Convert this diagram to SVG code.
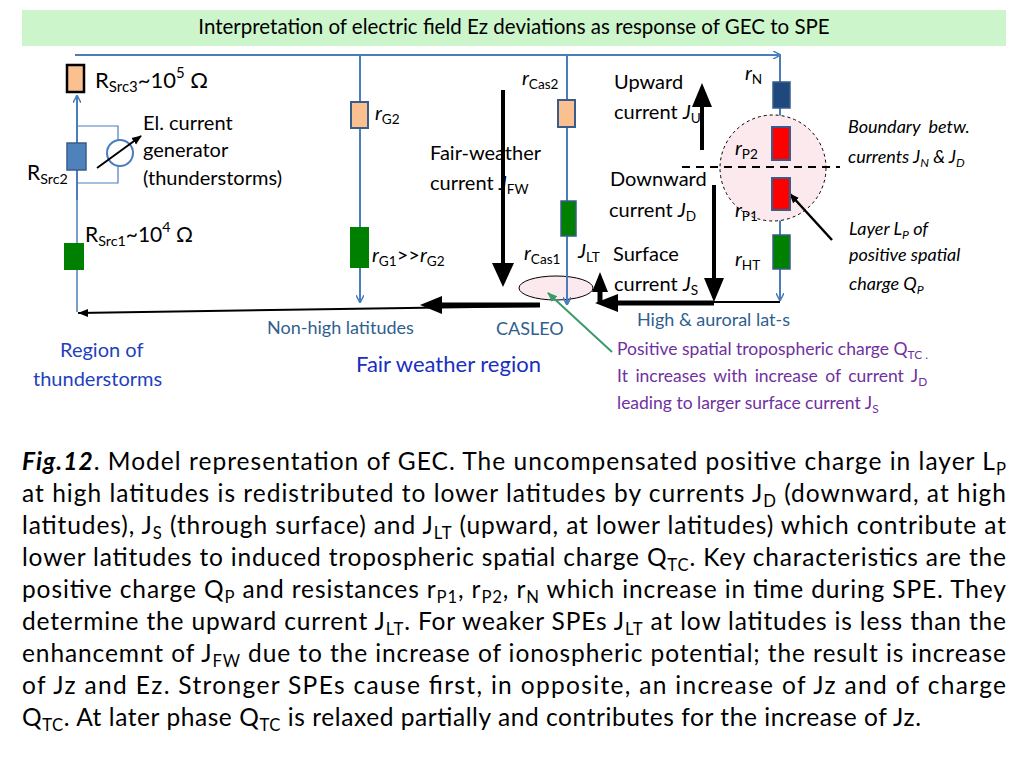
<svg xmlns="http://www.w3.org/2000/svg" width="1024" height="768" viewBox="0 0 1024 768">
<style>
text{font-family:Lato,"Liberation Sans",sans-serif;fill:#000}
.l{font-size:20px}.s{font-size:18px}
.sb{font-size:68%;baseline-shift:-0.3em}.sp{font-size:68%;baseline-shift:0.7em}
.i{font-style:italic}
.w{stroke:#4a7ebb;stroke-width:2;fill:none}
.cap{font-size:24.5px}
.blu{fill:#2f5f8f}.pur{fill:#7030a0;font-size:17.5px}
</style>
<defs>
<marker id="ba" markerWidth="8" markerHeight="8" refX="7" refY="4" orient="auto" markerUnits="userSpaceOnUse"><path d="M0,0 L8,4 L0,8" fill="none" stroke="#4a7ebb" stroke-width="1.5"/></marker>
<marker id="bk" markerWidth="10" markerHeight="10" refX="9" refY="5" orient="auto" markerUnits="userSpaceOnUse"><path d="M0,1 L10,5 L0,9Z" fill="#000"/></marker>
<marker id="gk" markerWidth="10" markerHeight="10" refX="9" refY="5" orient="auto" markerUnits="userSpaceOnUse"><path d="M0,1 L10,5 L0,9Z" fill="#3a9a6a"/></marker>
</defs>
<rect x="22" y="10" width="984" height="36" fill="#ccf5cc"/>
<text x="514" y="34" text-anchor="middle" style="font-size:20.5px">Interpretation of electric field Ez deviations as response of GEC to SPE</text>

<g id="connectors">
<path class="w" d="M75,55 H780" marker-end="url(#ba)"/>
<path class="w" d="M77,200 V96" marker-end="url(#ba)"/>
<path d="M77,200 V312" stroke="#4a7ebb" stroke-width="1.5"/>
<path d="M77,126 H118 V183 H77" stroke="#4a7ebb" stroke-width="1.2" fill="none"/>
<path class="w" d="M360,55 V302" marker-end="url(#ba)"/>
<path class="w" d="M567,55 V304" marker-end="url(#ba)"/>
<path class="w" d="M780,55 V300" marker-end="url(#ba)"/>
<path d="M540,306 L78,313" stroke="#000" stroke-width="2" fill="none"/>
<path d="M78,313 L88,309 L88,317Z" fill="#000"/>
<path d="M540,305 H440" stroke="#000" stroke-width="5"/>
<path d="M442,296 L420,305 L442,314Z" fill="#000"/>
<path d="M780,302 H714" stroke="#000" stroke-width="2"/>
<path d="M714,303 H615" stroke="#000" stroke-width="5"/>
<path d="M618,294 L595,303 L618,312Z" fill="#000"/>
<path d="M714,185 V280" stroke="#000" stroke-width="4"/>
<path d="M704,278 L714,302 L724,278Z" fill="#000"/>
<path d="M702,150 V105" stroke="#000" stroke-width="4"/>
<path d="M692,107 L702,83 L712,107Z" fill="#000"/>
<path d="M503,90 V265" stroke="#000" stroke-width="4"/>
<path d="M492,263 L503,287 L514,263Z" fill="#000"/>
<path d="M600,303 V290" stroke="#000" stroke-width="5"/>
<path d="M592,292 L600,272 L608,292Z" fill="#000"/>
</g>

<g id="layer"><circle cx="773" cy="168" r="53" fill="#fbe9ee" stroke="#000" stroke-dasharray="3,3" stroke-width="1"/></g>
<g id="casleo-charge"><ellipse cx="556" cy="288" rx="37" ry="12" fill="#fbe9ee" stroke="#000" stroke-width="1"/></g>
<path class="w" d="M567,276 V304" marker-end="url(#ba)"/>
<path d="M682,167 H840" stroke="#000" stroke-width="2" stroke-dasharray="8,6"/>
<path d="M832,240 L790,194" stroke="#000" stroke-width="2.5" marker-end="url(#bk)"/>
<path d="M612,352 L548,293" stroke="#3a9a6a" stroke-width="2" marker-end="url(#gk)"/>

<g id="rsrc3"><rect x="67" y="65" width="17" height="27" fill="#fac090" stroke="#000" stroke-width="2.5"/></g>
<g id="rsrc2"><rect x="67" y="143" width="19" height="27" fill="#4f81bd" stroke="#385d8a" stroke-width="1.5"/></g>
<g id="generator"><circle cx="120" cy="153" r="13" fill="#fff" stroke="#4a7ebb" stroke-width="2"/>
<path d="M97,168 L141,136" stroke="#000" stroke-width="2" marker-end="url(#bk)"/></g>
<g id="rsrc1"><rect x="64" y="243" width="20" height="27" fill="#008000"/></g>
<g id="rg2"><rect x="351" y="102" width="17" height="26" fill="#fac090" stroke="#385d8a" stroke-width="2"/></g>
<g id="rg1"><rect x="350" y="227" width="19" height="41" fill="#008000"/></g>
<g id="rcas2"><rect x="558" y="100" width="17" height="27" fill="#fac090" stroke="#385d8a" stroke-width="2"/></g>
<g id="rcas1"><rect x="561" y="201" width="15" height="35" fill="#008000" stroke="#385d8a" stroke-width="1.5"/></g>
<g id="rn"><rect x="773" y="82" width="17" height="26" fill="#1f497d" stroke="#385d8a" stroke-width="1.5"/></g>
<g id="rp2"><rect x="772" y="127" width="18" height="33" fill="#ff0000" stroke="#385d8a" stroke-width="2"/></g>
<g id="rp1"><rect x="772" y="178" width="18" height="32" fill="#ff0000" stroke="#385d8a" stroke-width="2"/></g>
<g id="rht"><rect x="773" y="235" width="17" height="34" fill="#008000" stroke="#385d8a" stroke-width="1.5"/></g>

<g id="labels">
<text x="95" y="88" style="font-size:22px">R<tspan class="sb">Src3</tspan>~10<tspan class="sp">5</tspan> Ω</text>
<text x="143" y="130" class="l">El. current</text>
<text x="143" y="157" class="l">generator</text>
<text x="143" y="185" class="l">(thunderstorms)</text>
<text x="27" y="180" style="font-size:21px">R<tspan class="sb">Src2</tspan></text>
<text x="85" y="242" style="font-size:21px">R<tspan class="sb">Src1</tspan>~10<tspan class="sp">4</tspan> Ω</text>
<text x="375" y="120" class="l"><tspan class="i">r</tspan><tspan class="sb">G2</tspan></text>
<text x="372" y="262" class="l"><tspan class="i">r</tspan><tspan class="sb">G1</tspan>&gt;&gt;<tspan class="i">r</tspan><tspan class="sb">G2</tspan></text>
<text x="430" y="160" class="l">Fair-weather</text>
<text x="430" y="190" class="l">current <tspan class="i">J</tspan><tspan class="sb">FW</tspan></text>
<text x="522" y="85" class="l"><tspan class="i">r</tspan><tspan class="sb">Cas2</tspan></text>
<text x="614" y="89" class="l">Upward</text>
<text x="614" y="119" class="l">current <tspan class="i">J</tspan><tspan class="sb">U</tspan></text>
<text x="745" y="80" class="l"><tspan class="i">r</tspan><tspan class="sb">N</tspan></text>
<text x="848" y="133" class="s i" word-spacing="4">Boundary betw.</text>
<text x="848" y="163" class="s i">currents J<tspan class="sb">N</tspan> &amp; J<tspan class="sb">D</tspan></text>
<text x="735" y="155" class="l"><tspan class="i">r</tspan><tspan class="sb">P2</tspan></text>
<text x="610" y="186" class="l">Downward</text>
<text x="609" y="217" class="l">current <tspan class="i">J</tspan><tspan class="sb">D</tspan></text>
<text x="735" y="217" class="l"><tspan class="i">r</tspan><tspan class="sb">P1</tspan></text>
<text x="849" y="235" class="s i">Layer L<tspan class="sb">P</tspan> of</text>
<text x="849" y="261" class="s i">positive spatial</text>
<text x="849" y="290" class="s i">charge Q<tspan class="sb">P</tspan></text>
<text x="524" y="260" class="l"><tspan class="i">r</tspan><tspan class="sb">Cas1</tspan></text>
<text x="578" y="258" class="l"><tspan class="i">J</tspan><tspan class="sb">LT</tspan></text>
<text x="613" y="261" class="l">Surface</text>
<text x="614" y="291" class="l">current <tspan class="i">J</tspan><tspan class="sb">S</tspan></text>
<text x="735" y="266" class="l"><tspan class="i">r</tspan><tspan class="sb">HT</tspan></text>
<text x="637" y="326" class="s blu">High &amp; auroral lat-s</text>
<text x="267" y="334" class="s blu">Non-high latitudes</text>
<text x="496" y="335" class="s blu">CASLEO</text>
<text x="60" y="357" class="l" style="fill:#1f3fbf">Region of</text>
<text x="33" y="386" class="l" style="fill:#1f3fbf">thunderstorms</text>
<text x="356" y="372" style="font-size:22px;fill:#1a2fbf">Fair weather region</text>
<text x="617" y="355" class="pur">Positive spatial tropospheric charge Q<tspan class="sb">TC .</tspan></text>
<text x="617" y="382" class="pur" word-spacing="3">It increases with increase of current J<tspan class="sb">D</tspan></text>
<text x="617" y="409" class="pur">leading to larger surface current J<tspan class="sb">S</tspan></text>
</g>

<g id="caption">
<text x="22" y="470" class="cap" textLength="984" lengthAdjust="spacing"><tspan font-weight="bold" font-style="italic">Fig.12</tspan>. Model representation of GEC. The uncompensated positive charge in layer L<tspan class="sb">P</tspan></text>
<text x="22" y="502" class="cap" textLength="984" lengthAdjust="spacing">at high latitudes is redistributed to lower latitudes by currents J<tspan class="sb">D</tspan> (downward, at high</text>
<text x="22" y="534" class="cap" textLength="984" lengthAdjust="spacing">latitudes), J<tspan class="sb">S</tspan> (through surface) and J<tspan class="sb">LT</tspan> (upward, at lower latitudes) which contribute at</text>
<text x="22" y="566" class="cap" textLength="984" lengthAdjust="spacing">lower latitudes to induced tropospheric spatial charge Q<tspan class="sb">TC</tspan>. Key characteristics are the</text>
<text x="22" y="598" class="cap" textLength="984" lengthAdjust="spacing">positive charge Q<tspan class="sb">P</tspan> and resistances r<tspan class="sb">P1</tspan>, r<tspan class="sb">P2</tspan>, r<tspan class="sb">N</tspan> which increase in time during SPE. They</text>
<text x="22" y="630" class="cap" textLength="984" lengthAdjust="spacing">determine the upward current J<tspan class="sb">LT</tspan>. For weaker SPEs J<tspan class="sb">LT</tspan> at low latitudes is less than the</text>
<text x="22" y="662" class="cap" textLength="984" lengthAdjust="spacing">enhancemnt of J<tspan class="sb">FW</tspan> due to the increase of ionospheric potential; the result is increase</text>
<text x="22" y="694" class="cap" textLength="984" lengthAdjust="spacing">of Jz and Ez. Stronger SPEs  cause first, in opposite, an increase of Jz and of charge</text>
<text x="22" y="726" class="cap" textLength="899" lengthAdjust="spacing">Q<tspan class="sb">TC</tspan>. At later phase Q<tspan class="sb">TC</tspan> is relaxed partially and contributes for the increase of Jz.</text>
</g>
</svg>
